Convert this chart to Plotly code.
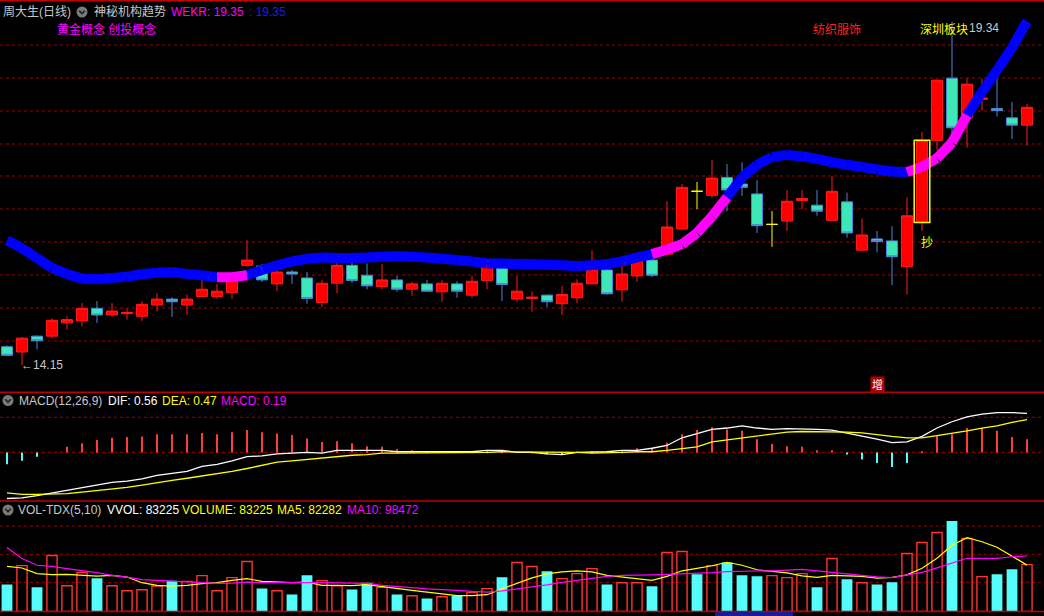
import plotly.graph_objects as go

W, H = 1044, 616

# ---------------- data ----------------
opens = [14.43, 14.35, 14.59, 14.59, 14.79, 14.82, 15.01, 14.91, 14.93, 14.89,
         15.06, 15.15, 15.06, 15.19, 15.19, 15.25, 15.66, 15.65, 15.38, 15.56,
         15.47, 15.10, 15.39, 15.66, 15.51, 15.34, 15.44, 15.30, 15.38, 15.26,
         15.38, 15.21, 15.43, 15.62, 15.15, 15.16, 15.21, 15.08, 15.17, 15.38,
         15.59, 15.29, 15.50, 15.74, 15.83, 16.21, 16.78, 16.72, 16.99, 16.89,
         16.74, 16.28, 16.33, 16.64, 16.57, 16.34, 16.62, 15.89, 16.06, 16.03,
         15.64, 16.31, 17.55, 18.49, 17.89, 18.17, 18.03, 17.89, 17.78]
highs = [14.45, 14.58, 14.60, 14.86, 14.89, 15.09, 15.12, 15.09, 15.01, 15.12,
         15.24, 15.18, 15.22, 15.50, 15.38, 15.56, 16.04, 15.68, 15.63, 15.59,
         15.56, 15.44, 15.72, 15.77, 15.69, 15.68, 15.50, 15.41, 15.44, 15.44,
         15.42, 15.50, 15.74, 15.63, 15.50, 15.27, 15.22, 15.35, 15.45, 15.89,
         15.60, 15.74, 15.80, 15.89, 16.63, 16.89, 16.92, 17.25, 17.19, 17.22,
         16.95, 16.48, 16.80, 16.80, 16.80, 17.01, 16.76, 16.37, 16.18, 16.25,
         16.69, 17.68, 18.47, 19.34, 18.49, 18.48, 18.60, 18.13, 18.10]
lows = [14.29, 14.15, 14.39, 14.55, 14.69, 14.74, 14.79, 14.88, 14.84, 14.82,
        14.96, 14.88, 14.91, 15.19, 15.15, 15.15, 15.64, 15.41, 15.27, 15.38,
        15.08, 15.03, 15.24, 15.39, 15.30, 15.30, 15.26, 15.20, 15.26, 15.11,
        15.17, 15.17, 15.30, 15.12, 15.11, 14.96, 15.03, 14.91, 15.09, 15.38,
        15.22, 15.11, 15.41, 15.48, 15.83, 16.21, 16.51, 16.68, 16.48, 16.71,
        16.15, 15.94, 16.18, 16.51, 16.41, 16.34, 16.08, 15.89, 15.86, 15.36,
        15.22, 16.18, 17.40, 17.40, 17.44, 18.00, 17.91, 17.57, 17.47]
closes = [14.30, 14.56, 14.52, 14.83, 14.84, 15.01, 14.91, 14.97, 14.95, 15.07,
          15.15, 15.11, 15.15, 15.30, 15.27, 15.53, 15.74, 15.44, 15.56, 15.53,
          15.16, 15.39, 15.66, 15.43, 15.35, 15.44, 15.30, 15.38, 15.27, 15.39,
          15.27, 15.42, 15.66, 15.37, 15.27, 15.18, 15.11, 15.22, 15.39, 15.60,
          15.23, 15.53, 15.74, 15.51, 16.24, 16.84, 16.78, 16.98, 16.80, 16.84,
          16.26, 16.28, 16.63, 16.67, 16.48, 16.78, 16.15, 16.12, 16.02, 15.79,
          16.41, 17.55, 18.46, 17.74, 18.40, 18.19, 18.00, 17.78, 18.05]
wekr = [16.04, 15.92, 15.77, 15.62, 15.53, 15.46, 15.45, 15.47, 15.49, 15.53,
        15.55, 15.56, 15.53, 15.51, 15.48, 15.48, 15.51, 15.59, 15.66, 15.72,
        15.76, 15.78, 15.77, 15.77, 15.78, 15.79, 15.80, 15.79, 15.78, 15.76,
        15.74, 15.72, 15.69, 15.69, 15.68, 15.68, 15.67, 15.66, 15.65, 15.66,
        15.68, 15.72, 15.78, 15.83, 15.90, 15.98, 16.15, 16.40, 16.69, 16.99,
        17.18, 17.30, 17.33, 17.31, 17.27, 17.22, 17.18, 17.15, 17.11, 17.08,
        17.07, 17.15, 17.28, 17.52, 17.93, 18.28, 18.61, 18.95, 19.35]
volumes = [48100, 81400, 42800, 99300, 45800, 69000, 58800, 45800, 36900, 38700,
           45100, 54700, 53500, 63600, 36900, 60100, 88600, 41000, 36900, 30300,
           64200, 54700, 45800, 39200, 50800, 42800, 30300, 28000, 23200, 26200,
           28000, 33900, 40500, 60600, 86800, 79700, 71300, 58300, 67200, 76100,
           48100, 51100, 51100, 44600, 104600, 106400, 65900, 81400, 86800, 64200,
           62400, 63600, 60100, 67200, 42800, 93900, 57000, 51100, 48100, 51700,
           102800, 122400, 140200, 160400, 129600, 61800, 65900, 74800, 83225]
vol_ma5 = [80200, 77200, 67200, 65400, 65900, 64200, 62900, 64200, 61100, 51100,
           46300, 45100, 46300, 49400, 51100, 55200, 58300, 53500, 52200, 51100,
           52200, 46300, 46300, 45800, 47600, 44000, 39700, 37400, 34400, 31500,
           28000, 28000, 29800, 40100, 49400, 59700, 66800, 70400, 72200, 70400,
           64200, 61100, 58800, 55200, 62400, 72200, 76600, 81100, 87300, 82000,
           74000, 71300, 68600, 63300, 60600, 64200, 63600, 62400, 59300, 60600,
           65000, 76600, 94400, 117600, 131000, 123800, 114000, 98000, 82282]
vol_ma10 = [113500, 93900, 82000, 80200, 76100, 73100, 69000, 64200, 61100, 56500,
            55200, 53500, 52200, 51100, 49900, 50400, 52200, 51100, 51100, 51100,
            52200, 51100, 50800, 50400, 49900, 46300, 43700, 42200, 40100, 39200,
            37400, 35600, 34400, 36500, 39700, 42800, 47200, 51700, 55200, 59700,
            62400, 64200, 64200, 65000, 65900, 66500, 67700, 69000, 70700, 70700,
            71800, 72200, 73100, 74800, 72200, 69500, 67200, 65000, 61500, 60100,
            64200, 69500, 77500, 85500, 94400, 94400, 94400, 97100, 98472]
dif = [-0.66, -0.65, -0.62, -0.58, -0.55, -0.51, -0.46, -0.43, -0.41, -0.38,
       -0.33, -0.30, -0.27, -0.20, -0.17, -0.12, -0.06, -0.05, -0.02, -0.01,
       0.00, -0.01, 0.03, 0.03, 0.03, 0.03, 0.01, 0.01, 0.00, 0.00,
       0.00, 0.01, 0.03, 0.03, 0.00, 0.00, -0.02, -0.03, 0.00, 0.00,
       0.01, 0.03, 0.03, 0.06, 0.10, 0.21, 0.27, 0.33, 0.35, 0.38,
       0.35, 0.33, 0.34, 0.34, 0.33, 0.32, 0.28, 0.24, 0.19, 0.14,
       0.15, 0.23, 0.35, 0.44, 0.51, 0.55, 0.57, 0.57, 0.56]
dea = [-0.58, -0.60, -0.60, -0.60, -0.59, -0.57, -0.55, -0.52, -0.50, -0.47,
       -0.43, -0.40, -0.37, -0.34, -0.30, -0.27, -0.23, -0.19, -0.14, -0.12,
       -0.10, -0.07, -0.06, -0.04, -0.03, -0.01, -0.01, -0.01, 0.00, 0.00,
       0.00, 0.00, 0.00, 0.01, 0.01, 0.01, 0.00, 0.00, 0.00, -0.01,
       -0.01, 0.00, 0.01, 0.01, 0.03, 0.06, 0.08, 0.15, 0.18, 0.21,
       0.24, 0.27, 0.29, 0.30, 0.30, 0.30, 0.29, 0.28, 0.25, 0.23,
       0.21, 0.21, 0.24, 0.27, 0.31, 0.35, 0.38, 0.43, 0.47]
macd = [-0.17, -0.12, -0.06, 0.00, 0.08, 0.13, 0.18, 0.21, 0.22, 0.23,
        0.26, 0.26, 0.26, 0.28, 0.26, 0.29, 0.32, 0.29, 0.27, 0.25,
        0.20, 0.15, 0.16, 0.13, 0.09, 0.08, 0.05, 0.03, 0.01, 0.00,
        0.00, 0.01, 0.02, 0.02, 0.00, -0.01, -0.02, -0.03, 0.00, 0.02,
        0.00, 0.02, 0.06, 0.06, 0.14, 0.26, 0.32, 0.36, 0.33, 0.31,
        0.19, 0.12, 0.09, 0.08, 0.03, 0.03, -0.03, -0.10, -0.15, -0.21,
        -0.15, 0.01, 0.24, 0.26, 0.35, 0.35, 0.31, 0.22, 0.19]

stock_name = "周大生(日线)"
indicator_name = "神秘机构趋势"
concepts = "黄金概念 创投概念"
sector_tags = [("纺织服饰", "#ff2020", 812), ("深圳板块", "#ffff00", 919)]
signal_day = 61          # boxed candle with the "抄" mark
mark_day = 58            # "增" tag

# ---------------- helpers ----------------
n = len(closes)
idx = list(range(n))


def py(px):
    return 1 - px / H


def pxx(px):
    return px / W


FONT = "Liberation Sans, Arial, Noto Sans CJK SC, sans-serif"
RED = "#ff0000"
CYAN_FILL = "#3ee8b6"
CYAN_LINE = "#4a88d8"
VOL_CYAN = "#54fcfc"
VOL_RED = "#ff3232"

flat = [o == c for o, c in zip(opens, closes)]
normal = [not f for f in flat]


def keep(vals, mask):
    return [v if m else None for v, m in zip(vals, mask)]


# up/down for volume colouring (flat days compared with previous close)
up = []
for i in range(n):
    if closes[i] > opens[i]:
        up.append(True)
    elif closes[i] < opens[i]:
        up.append(False)
    else:
        up.append(i > 0 and closes[i] >= closes[i - 1])

fig = go.Figure()

# ---------------- WEKR thick band (blue / magenta) ----------------
above = [c > w for c, w in zip(closes, wekr)]
bx, by, mx, my = [], [], [], []
for i in range(1, n):
    if above[i]:
        mx += [i - 1, i, None]
        my += [wekr[i - 1], wekr[i], None]
    else:
        bx += [i - 1, i, None]
        by += [wekr[i - 1], wekr[i], None]
fig.add_trace(go.Scatter(x=bx, y=by, mode="lines", line=dict(color="#0000ff", width=10),
                         hoverinfo="skip", showlegend=False, xaxis="x", yaxis="y"))
fig.add_trace(go.Scatter(x=mx, y=my, mode="lines", line=dict(color="#ff00ff", width=10),
                         hoverinfo="skip", showlegend=False, xaxis="x", yaxis="y"))

# ---------------- candles ----------------
fig.add_trace(go.Candlestick(
    x=idx, open=keep(opens, normal), high=keep(highs, normal),
    low=keep(lows, normal), close=keep(closes, normal),
    increasing=dict(line=dict(color="#ff1a1a", width=1), fillcolor=RED),
    decreasing=dict(line=dict(color=CYAN_LINE, width=1), fillcolor=CYAN_FILL),
    whiskerwidth=0, hoverinfo="skip", showlegend=False, xaxis="x", yaxis="y"))
fig.add_trace(go.Candlestick(
    x=idx, open=keep(opens, flat), high=keep(highs, flat),
    low=keep(lows, flat), close=keep(closes, flat),
    increasing=dict(line=dict(color="#ffff00", width=1), fillcolor="#ffff00"),
    decreasing=dict(line=dict(color="#ffff00", width=1), fillcolor="#ffff00"),
    whiskerwidth=0, hoverinfo="skip", showlegend=False, xaxis="x", yaxis="y"))

# ---------------- MACD ----------------
fig.add_trace(go.Bar(x=[i for i in idx if macd[i] >= 0], y=[m for m in macd if m >= 0],
                     width=0.1, marker=dict(color="#ff3c3c", line=dict(width=0)),
                     hoverinfo="skip", showlegend=False, xaxis="x", yaxis="y2"))
fig.add_trace(go.Bar(x=[i for i in idx if macd[i] < 0], y=[m for m in macd if m < 0],
                     width=0.1, marker=dict(color=VOL_CYAN, line=dict(width=0)),
                     hoverinfo="skip", showlegend=False, xaxis="x", yaxis="y2"))
fig.add_trace(go.Scatter(x=idx, y=dif, mode="lines", line=dict(color="#ffffff", width=1.3),
                         hoverinfo="skip", showlegend=False, xaxis="x", yaxis="y2"))
fig.add_trace(go.Scatter(x=idx, y=dea, mode="lines", line=dict(color="#ffff00", width=1.3),
                         hoverinfo="skip", showlegend=False, xaxis="x", yaxis="y2"))

# ---------------- volume ----------------
fig.add_trace(go.Bar(x=[i for i in idx if not up[i]], y=[v for v, u in zip(volumes, up) if not u],
                     width=0.72, marker=dict(color=VOL_CYAN, line=dict(width=0)),
                     hoverinfo="skip", showlegend=False, xaxis="x", yaxis="y3"))
fig.add_trace(go.Bar(x=[i for i in idx if up[i]], y=[v for v, u in zip(volumes, up) if u],
                     width=0.68, marker=dict(color="rgba(0,0,0,0)", line=dict(color=VOL_RED, width=1.4)),
                     hoverinfo="skip", showlegend=False, xaxis="x", yaxis="y3"))
fig.add_trace(go.Scatter(x=idx, y=vol_ma5, mode="lines", line=dict(color="#ffff00", width=1.2),
                         hoverinfo="skip", showlegend=False, xaxis="x", yaxis="y3"))
fig.add_trace(go.Scatter(x=idx, y=vol_ma10, mode="lines", line=dict(color="#ff00ff", width=1.2),
                         hoverinfo="skip", showlegend=False, xaxis="x", yaxis="y3"))

# ---------------- shapes: grid, borders, icons ----------------
shapes = []
GRID = "#9a0000"
for gy in [45, 78, 111, 144, 176, 209, 242, 275, 308, 341, 417.3, 452.3, 526, 554.3, 582.3]:
    shapes.append(dict(type="line", xref="paper", yref="paper", x0=0, x1=1, y0=py(gy), y1=py(gy),
                       line=dict(color=GRID, width=1, dash="dot"), layer="below"))
for by_ in [0.7, 392.3, 501, 611.5]:
    shapes.append(dict(type="line", xref="paper", yref="paper", x0=0, x1=1, y0=py(by_), y1=py(by_),
                       line=dict(color="#c00000", width=1.5), layer="above"))

# yellow frame around the signal candle body
shapes.append(dict(type="rect", xref="x", yref="y",
                   x0=signal_day - 0.52, x1=signal_day + 0.52,
                   y0=opens[signal_day], y1=closes[signal_day],
                   line=dict(color="#ffff00", width=1.5), fillcolor="rgba(0,0,0,0)", layer="above"))

# collapse icons
for cx, cy in [(82, 12), (8, 400.5), (8, 510)]:
    r = 5.5
    shapes.append(dict(type="circle", xref="paper", yref="paper",
                       x0=pxx(cx - r), x1=pxx(cx + r), y0=py(cy + r), y1=py(cy - r),
                       fillcolor="#7a7a7a", line=dict(width=0), layer="above"))
    shapes.append(dict(type="path", xref="paper", yref="paper",
                       path=f"M {pxx(cx-2.8)} {py(cy-1.2)} L {pxx(cx)} {py(cy+1.6)} L {pxx(cx+2.8)} {py(cy-1.2)}",
                       line=dict(color="#222222", width=1.6), layer="above"))

# small tab at the bottom
shapes.append(dict(type="rect", xref="paper", yref="paper", x0=pxx(715), x1=pxx(793), y0=0, y1=py(612),
                   fillcolor="#1c1c90", line=dict(width=0), layer="above"))

# ---------------- text ----------------
ann = []


def txt(s, x, y, color, size=12, **kw):
    d = dict(text=s, xref="paper", yref="paper", x=pxx(x), y=py(y), xanchor="left", yanchor="middle",
             showarrow=False, font=dict(family=FONT, size=size, color=color))
    d.update(kw)
    ann.append(d)


txt(stock_name, 1, 12, "#c8c8c8")
txt(indicator_name, 92, 12, "#c8c8c8")
txt(f"WEKR: {wekr[-1]:.2f}", 169, 12, "#ff00ff")
txt(f": {wekr[-1]:.2f}", 247, 12, "#1a1aff")
txt(concepts, 55, 30, "#ff00ff")

# high / low markers
lo_i = lows.index(min(lows))
hi_i = highs.index(max(highs))
ann.append(dict(text=f"←{lows[lo_i]:.2f}", xref="x", yref="y", x=lo_i, y=lows[lo_i],
                xanchor="left", yanchor="middle", xshift=-3, showarrow=False,
                font=dict(family=FONT, size=12, color="#c8c8c8")))
ann.append(dict(text=f"{highs[hi_i]:.2f}", xref="x", yref="y", x=hi_i, y=highs[hi_i],
                xanchor="left", yanchor="middle", xshift=15, yshift=-6, showarrow=False,
                font=dict(family=FONT, size=12, color="#c8c8c8")))

for name, col, xx in sector_tags:
    txt(name, xx - 1, 30, col)

ann.append(dict(text="抄", xref="x", yref="y", x=signal_day, y=lows[signal_day],
                xanchor="center", yanchor="top", xshift=5, yshift=-3, showarrow=False,
                font=dict(family=FONT, size=12, color="#ffff00")))
ann.append(dict(text="增", xref="x", yref="paper", x=mark_day, y=py(384),
                xanchor="center", yanchor="middle", showarrow=False, bgcolor="#b00000", borderpad=1,
                font=dict(family=FONT, size=11, color="#ffffff")))

txt("MACD(12,26,9)", 17, 400.5, "#c8c8c8")
txt(f"DIF: {dif[-1]:.2f}", 106, 400.5, "#ffffff")
txt(f"DEA: {dea[-1]:.2f}", 160, 400.5, "#ffff00")
txt(f"MACD: {macd[-1]:.2f}", 219, 400.5, "#ff00ff")

txt("VOL-TDX(5,10)", 16, 510, "#c8c8c8")
txt(f"VVOL: {volumes[-1]}", 105, 510, "#ffffff")
txt(f"VOLUME: {volumes[-1]}", 180, 510, "#ffff00")
txt(f"MA5: {vol_ma5[-1]}", 275, 510, "#ffff00")
txt(f"MA10: {vol_ma10[-1]}", 345, 510, "#ff00ff")

# ---------------- layout ----------------
hidden = dict(visible=False, showgrid=False, zeroline=False, fixedrange=True)
fig.update_layout(
    width=W, height=H, autosize=False,
    margin=dict(l=0, r=0, t=0, b=0, pad=0),
    paper_bgcolor="#000000", plot_bgcolor="#000000",
    showlegend=False, barmode="overlay", boxgap=0.0, boxgroupgap=0.27,
    xaxis=dict(range=[-7 / 15, 1037 / 15], domain=[0, 1], anchor="y",
               rangeslider=dict(visible=False), **hidden),
    yaxis=dict(domain=[py(392.3), 1], range=[13.741, 19.672], anchor="x", **hidden),
    yaxis2=dict(domain=[py(501), py(392.3)], range=[-0.696, 0.862], anchor="x", **hidden),
    yaxis3=dict(domain=[py(611.5), py(501)], range=[0, 196000], anchor="x", **hidden),
    shapes=shapes, annotations=ann,
    font=dict(family=FONT, color="#c8c8c8"),
)

fig.write_html(
    "out.html",
    config=dict(displayModeBar=False),
    post_script="document.body.style.margin='0';document.body.style.padding='0';"
                "document.body.style.background='#000';document.body.style.overflow='hidden';",
)
